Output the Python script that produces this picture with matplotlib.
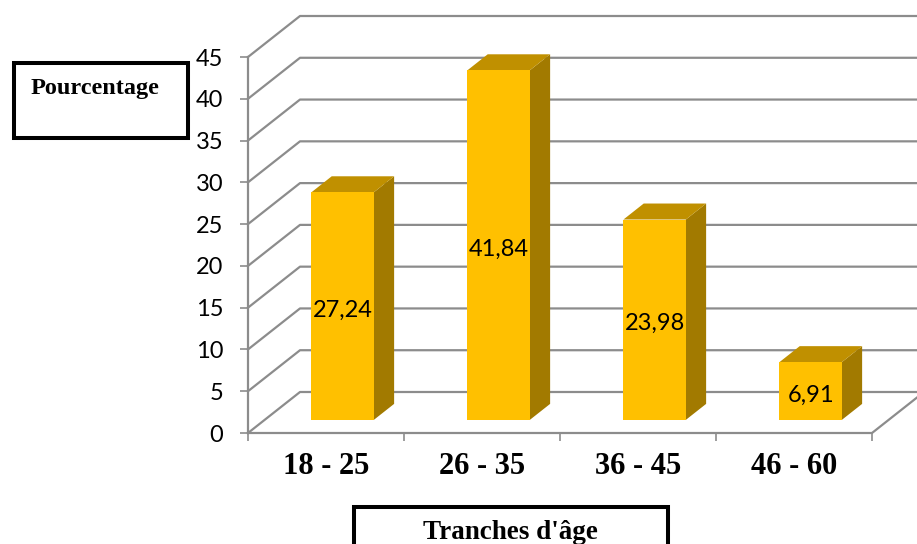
import matplotlib.pyplot as plt
from matplotlib.patches import Polygon, Rectangle
from matplotlib.lines import Line2D
from matplotlib.transforms import IdentityTransform, offset_copy
import numpy as np

# données
categories = ['18 - 25', '26 - 35', '36 - 45', '46 - 60']
values = [27.24, 41.84, 23.98, 6.91]
value_labels = ['27,24', '41,84', '23,98', '6,91']
yticks = [0, 5, 10, 15, 20, 25, 30, 35, 40, 45]

W, H = 917, 544
DX, DY = 52, 41          # profondeur 3D en pixels
D0, D1 = 0.32, 0.71      # position des barres dans la profondeur
BAR_W = 0.4
GRID = '#8c8c8c'
FRONT, TOP, SIDE = '#ffc000', '#c09000', '#a27a00'

fig = plt.figure(figsize=(W / 100, H / 100), dpi=100)
ax = fig.add_axes([248 / W, 111 / H, 624 / W, 376 / H])
ax.set_xlim(0, len(categories))
ax.set_ylim(0, 45)
ax.patch.set_visible(False)
for s in ax.spines.values():
    s.set_visible(False)


def pt(x, v, d):
    p = ax.transData.transform((x, v))
    return (p[0] + DX * d, p[1] + DY * d)


def poly(points, color):
    ax.add_patch(Polygon(points, closed=True, facecolor=color, edgecolor='none',
                         transform=IdentityTransform(), clip_on=False, zorder=3))


def line(points, lw=1.6):
    xs, ys = zip(*points)
    ax.add_line(Line2D(xs, ys, color=GRID, lw=lw, transform=IdentityTransform(),
                       clip_on=False, zorder=1))


# quadrillage (paroi gauche + fond)
n = len(categories)
for v in yticks:
    line([pt(0, v, 0), pt(0, v, 1), pt(n, v, 1)])
# sol et axes
line([pt(0, 0, 0), pt(n, 0, 0), pt(n, 0, 1)])
line([pt(0, 0, 0), pt(0, 45, 0)])

# barres 3D
for i, v in enumerate(values):
    x0, x1 = i + 0.5 - BAR_W / 2, i + 0.5 + BAR_W / 2
    poly([pt(x1, 0, D0), pt(x1, 0, D1), pt(x1, v, D1), pt(x1, v, D0)], SIDE)
    poly([pt(x0, v, D0), pt(x1, v, D0), pt(x1, v, D1), pt(x0, v, D1)], TOP)
    poly([pt(x0, 0, D0), pt(x1, 0, D0), pt(x1, v, D0), pt(x0, v, D0)], FRONT)

lab_tr = offset_copy(ax.transData, fig, x=DX * D0, y=DY * D0 - 4, units='dots')
for i, v in enumerate(values):
    ax.text(i + 0.5, v / 2, value_labels[i], transform=lab_tr, ha='center',
            va='center', fontsize=17, family='Lato', color='black', zorder=5)

# graduations
ax.set_yticks(yticks)
ax.set_yticklabels([str(t) for t in yticks], family='Lato', fontsize=17)
ax.tick_params(axis='y', length=5.8, width=1.2, color=GRID, pad=12)
ax.set_xticks(range(n + 1))
ax.set_xticklabels([])
ax.tick_params(axis='x', which='major', length=5.8, width=1.2, color=GRID)
ax.set_xticks(np.arange(n) + 0.5, minor=True)
ax.set_xticklabels(categories, minor=True, family='Liberation Serif',
                   fontweight='bold', fontsize=22)
ax.tick_params(axis='x', which='minor', length=0, pad=14)

# cadres de titres
fig.add_artist(Rectangle((14, H - 138), 174, 75, fill=False, lw=2.9,
                         edgecolor='black', transform=IdentityTransform()))
fig.text(95 / W, 1 - 94 / H, 'Pourcentage', ha='center', va='baseline',
         family='Liberation Serif', fontweight='bold', fontsize=17.5)

fig.add_artist(Rectangle((354, H - 580), 314, 73, fill=False, lw=2.9,
                         edgecolor='black', transform=IdentityTransform()))
fig.text(510 / W, 1 - 539 / H, "Tranches d'âge", ha='center', va='baseline',
         family='Liberation Serif', fontweight='bold', fontsize=19.5)

fig.savefig('out.png', dpi=100)
